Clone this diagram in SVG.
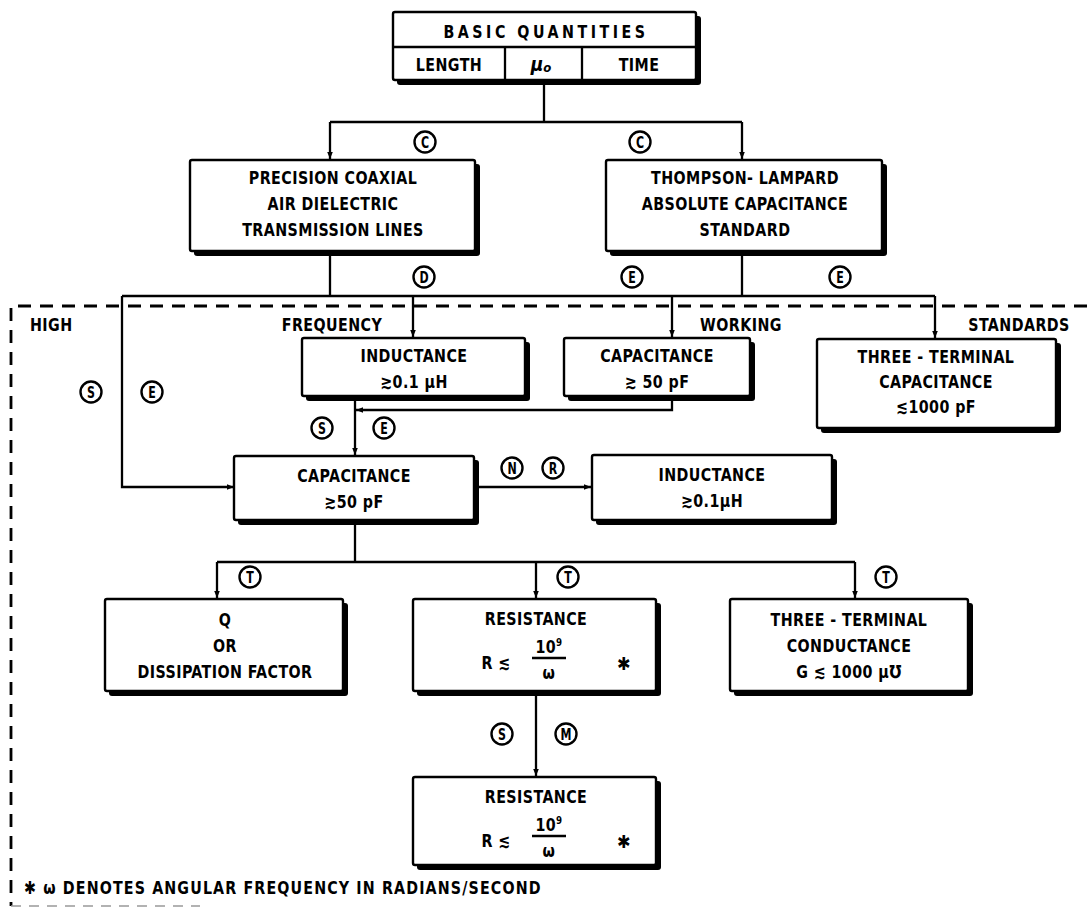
<svg xmlns="http://www.w3.org/2000/svg" width="1087" height="911" viewBox="0 0 1087 911">
<defs>
<style>
text{font-family:'DejaVu Sans Condensed','DejaVu Sans','Liberation Sans',sans-serif;font-stretch:condensed;font-weight:bold;fill:#000;}
.t{font-size:18px;letter-spacing:0.5px;text-anchor:middle;}
.lbl{font-size:18px;letter-spacing:0.5px;}
.c{font-size:15px;text-anchor:middle;}
.box{fill:#fff;stroke:#000;stroke-width:2.4;}
.sh{fill:#000;}
.ln{fill:none;stroke:#000;stroke-width:2.3;}
.dash{fill:none;stroke:#000;stroke-width:2.8;stroke-dasharray:13,9;}
.circ{fill:#fff;stroke:#000;stroke-width:2.4;}
</style>
<marker id="ah" markerWidth="8" markerHeight="8" refX="7" refY="4" orient="auto" markerUnits="userSpaceOnUse">
<path d="M0,1.2 L7,4 L0,6.8 Z" fill="#000"/>
</marker>
</defs>
<rect width="1087" height="911" fill="#fff"/>

<g id="region">
<path class="dash" d="M1087,306 L11,306 L11,906"/>
<path d="M11,906 L200,906" fill="none" stroke="#999" stroke-width="1.5" stroke-dasharray="10,8"/>
<text class="lbl" transform="translate(30,331) scale(.88,1)">HIGH</text>
<text class="t" transform="translate(332,331) scale(.88,1)">FREQUENCY</text>
<text class="t" transform="translate(741,331) scale(.88,1)">WORKING</text>
<text class="t" transform="translate(1019,331) scale(.88,1)">STANDARDS</text>
</g>

<g id="connectors">
<path class="ln" d="M544,84 L544,122 M330,122 L742,122"/>
<path class="ln" d="M330,122 L330,159" marker-end="url(#ah)"/>
<path class="ln" d="M742,122 L742,159" marker-end="url(#ah)"/>
<path class="ln" d="M330,256 L330,296 M742,256 L742,296 M122,296 L935,296"/>
<path class="ln" d="M122,296 L122,487 L234,487" marker-end="url(#ah)"/>
<path class="ln" d="M413,296 L413,337" marker-end="url(#ah)"/>
<path class="ln" d="M672,296 L672,337" marker-end="url(#ah)"/>
<path class="ln" d="M935,296 L935,338" marker-end="url(#ah)"/>
<path class="ln" d="M672,401 L672,410 L356,410" marker-end="url(#ah)"/>
<path class="ln" d="M355,401 L355,455" marker-end="url(#ah)"/>
<path class="ln" d="M479,487 L591,487" marker-end="url(#ah)"/>
<path class="ln" d="M355,525 L355,562 M217,562 L855,562"/>
<path class="ln" d="M217,562 L217,598" marker-end="url(#ah)"/>
<path class="ln" d="M536,562 L536,598" marker-end="url(#ah)"/>
<path class="ln" d="M855,562 L855,598" marker-end="url(#ah)"/>
<path class="ln" d="M536,696 L536,776" marker-end="url(#ah)"/>
<g id="conn-labels">
<circle class="circ" cx="425" cy="142" r="10.5"/><text class="c" transform="translate(425,147.5) scale(.82,1)">C</text>
<circle class="circ" cx="640" cy="142" r="10.5"/><text class="c" transform="translate(640,147.5) scale(.82,1)">C</text>
<circle class="circ" cx="424" cy="277" r="10.5"/><text class="c" transform="translate(424,282.5) scale(.82,1)">D</text>
<circle class="circ" cx="632" cy="277" r="10.5"/><text class="c" transform="translate(632,282.5) scale(.82,1)">E</text>
<circle class="circ" cx="840" cy="277" r="10.5"/><text class="c" transform="translate(840,282.5) scale(.82,1)">E</text>
<circle class="circ" cx="91" cy="392" r="10.5"/><text class="c" transform="translate(91,397.5) scale(.82,1)">S</text>
<circle class="circ" cx="152" cy="392" r="10.5"/><text class="c" transform="translate(152,397.5) scale(.82,1)">E</text>
<circle class="circ" cx="322" cy="428" r="10.5"/><text class="c" transform="translate(322,433.5) scale(.82,1)">S</text>
<circle class="circ" cx="384" cy="428" r="10.5"/><text class="c" transform="translate(384,433.5) scale(.82,1)">E</text>
<circle class="circ" cx="512" cy="468" r="10.5"/><text class="c" transform="translate(512,473.5) scale(.82,1)">N</text>
<circle class="circ" cx="553" cy="468" r="10.5"/><text class="c" transform="translate(553,473.5) scale(.82,1)">R</text>
<circle class="circ" cx="250" cy="577" r="10.5"/><text class="c" transform="translate(250,582.5) scale(.82,1)">T</text>
<circle class="circ" cx="568" cy="577" r="10.5"/><text class="c" transform="translate(568,582.5) scale(.82,1)">T</text>
<circle class="circ" cx="886" cy="577" r="10.5"/><text class="c" transform="translate(886,582.5) scale(.82,1)">T</text>
<circle class="circ" cx="502" cy="734" r="10.5"/><text class="c" transform="translate(502,739.5) scale(.82,1)">S</text>
<circle class="circ" cx="566" cy="734" r="10.5"/><text class="c" transform="translate(566,739.5) scale(.82,1)">M</text>
</g>
</g>

<g id="basic-quantities">
<rect class="sh" x="397" y="16" width="304" height="69" rx="3"/>
<rect class="box" x="393" y="12" width="303" height="68" rx="2"/>
<path class="ln" d="M393,47 L696,47 M505,47 L505,80 M582,47 L582,80"/>
<text class="t" transform="translate(546,38) scale(.88,1)" style="letter-spacing:4px">BASIC QUANTITIES</text>
<text class="t" transform="translate(449,71) scale(.88,1)">LENGTH</text>
<text x="541" y="71" font-size="19" text-anchor="middle" font-style="italic">μ<tspan font-size="13" dy="1">o</tspan></text>
<text class="t" transform="translate(639,71) scale(.88,1)">TIME</text>
</g>

<g id="precision-coaxial">
<rect class="sh" x="194" y="164" width="286" height="92" rx="3"/>
<rect class="box" x="190" y="160" width="285" height="91" rx="2"/>
<text class="t" transform="translate(333,184) scale(.88,1)">PRECISION COAXIAL</text>
<text class="t" transform="translate(333,210) scale(.88,1)">AIR DIELECTRIC</text>
<text class="t" transform="translate(333,236) scale(.88,1)">TRANSMISSION LINES</text>
</g>

<g id="thompson-lampard">
<rect class="sh" x="610" y="164" width="277" height="92" rx="3"/>
<rect class="box" x="606" y="160" width="276" height="91" rx="2"/>
<text class="t" transform="translate(745,184) scale(.88,1)">THOMPSON- LAMPARD</text>
<text class="t" transform="translate(745,210) scale(.88,1)">ABSOLUTE CAPACITANCE</text>
<text class="t" transform="translate(745,236) scale(.88,1)">STANDARD</text>
</g>

<g id="inductance-hf">
<rect class="sh" x="306" y="342" width="224" height="59" rx="3"/>
<rect class="box" x="302" y="338" width="223" height="58" rx="2"/>
<text class="t" transform="translate(414,362) scale(.88,1)">INDUCTANCE</text>
<text class="t" transform="translate(414,388) scale(.88,1)">≳0.1 μH</text>
</g>

<g id="capacitance-working">
<rect class="sh" x="568" y="342" width="187" height="59" rx="3"/>
<rect class="box" x="564" y="338" width="186" height="58" rx="2"/>
<text class="t" transform="translate(657,362) scale(.88,1)">CAPACITANCE</text>
<text class="t" transform="translate(657,388) scale(.88,1)">≳ 50 pF</text>
</g>

<g id="three-terminal-capacitance">
<rect class="sh" x="821" y="343" width="240" height="90" rx="3"/>
<rect class="box" x="817" y="339" width="239" height="89" rx="2"/>
<text class="t" transform="translate(936,363) scale(.88,1)">THREE - TERMINAL</text>
<text class="t" transform="translate(936,388) scale(.88,1)">CAPACITANCE</text>
<text class="t" transform="translate(936,413) scale(.88,1)">≲1000 pF</text>
</g>

<g id="capacitance-main">
<rect class="sh" x="238" y="460" width="241" height="65" rx="3"/>
<rect class="box" x="234" y="456" width="240" height="64" rx="2"/>
<text class="t" transform="translate(354,482) scale(.88,1)">CAPACITANCE</text>
<text class="t" transform="translate(354,508) scale(.88,1)">≳50 pF</text>
</g>

<g id="inductance-2">
<rect class="sh" x="596" y="459" width="241" height="66" rx="3"/>
<rect class="box" x="592" y="455" width="240" height="65" rx="2"/>
<text class="t" transform="translate(712,481) scale(.88,1)">INDUCTANCE</text>
<text class="t" transform="translate(712,507) scale(.88,1)">≳0.1μH</text>
</g>

<g id="q-dissipation">
<rect class="sh" x="109" y="603" width="239" height="93" rx="3"/>
<rect class="box" x="105" y="599" width="238" height="92" rx="2"/>
<text class="t" transform="translate(225,626) scale(.88,1)">Q</text>
<text class="t" transform="translate(225,652) scale(.88,1)">OR</text>
<text class="t" transform="translate(225,678) scale(.88,1)">DISSIPATION FACTOR</text>
</g>

<g id="resistance-1">
<rect class="sh" x="417" y="603" width="244" height="93" rx="3"/>
<rect class="box" x="413" y="599" width="243" height="92" rx="2"/>
<text class="t" transform="translate(536,625) scale(.88,1)">RESISTANCE</text>
<text class="t" transform="translate(496,669) scale(.88,1)">R ≲</text>
<text class="t" transform="translate(549,653) scale(.88,1)">10<tspan font-size="11" dy="-7">9</tspan></text>
<path class="ln" d="M532,658 L566,658"/>
<text class="t" transform="translate(549,679) scale(.88,1)">ω</text>
<text class="t" x="624" y="670">✱</text>
</g>

<g id="three-terminal-conductance">
<rect class="sh" x="734" y="603" width="239" height="93" rx="3"/>
<rect class="box" x="730" y="599" width="238" height="92" rx="2"/>
<text class="t" transform="translate(849,626) scale(.88,1)">THREE - TERMINAL</text>
<text class="t" transform="translate(849,652) scale(.88,1)">CONDUCTANCE</text>
<text class="t" transform="translate(849,678) scale(.88,1)">G ≲ 1000 μ℧</text>
</g>

<g id="resistance-2">
<rect class="sh" x="417" y="781" width="244" height="89" rx="3"/>
<rect class="box" x="413" y="777" width="243" height="88" rx="2"/>
<text class="t" transform="translate(536,803) scale(.88,1)">RESISTANCE</text>
<text class="t" transform="translate(496,847) scale(.88,1)">R ≲</text>
<text class="t" transform="translate(549,831) scale(.88,1)">10<tspan font-size="11" dy="-7">9</tspan></text>
<path class="ln" d="M532,836 L566,836"/>
<text class="t" transform="translate(549,857) scale(.88,1)">ω</text>
<text class="t" x="624" y="848">✱</text>
</g>

<g id="footnote">
<text class="lbl" transform="translate(24,894) scale(.88,1)" style="letter-spacing:1.3px">✱ ω DENOTES  ANGULAR FREQUENCY IN RADIANS/SECOND</text>
</g>
</svg>
